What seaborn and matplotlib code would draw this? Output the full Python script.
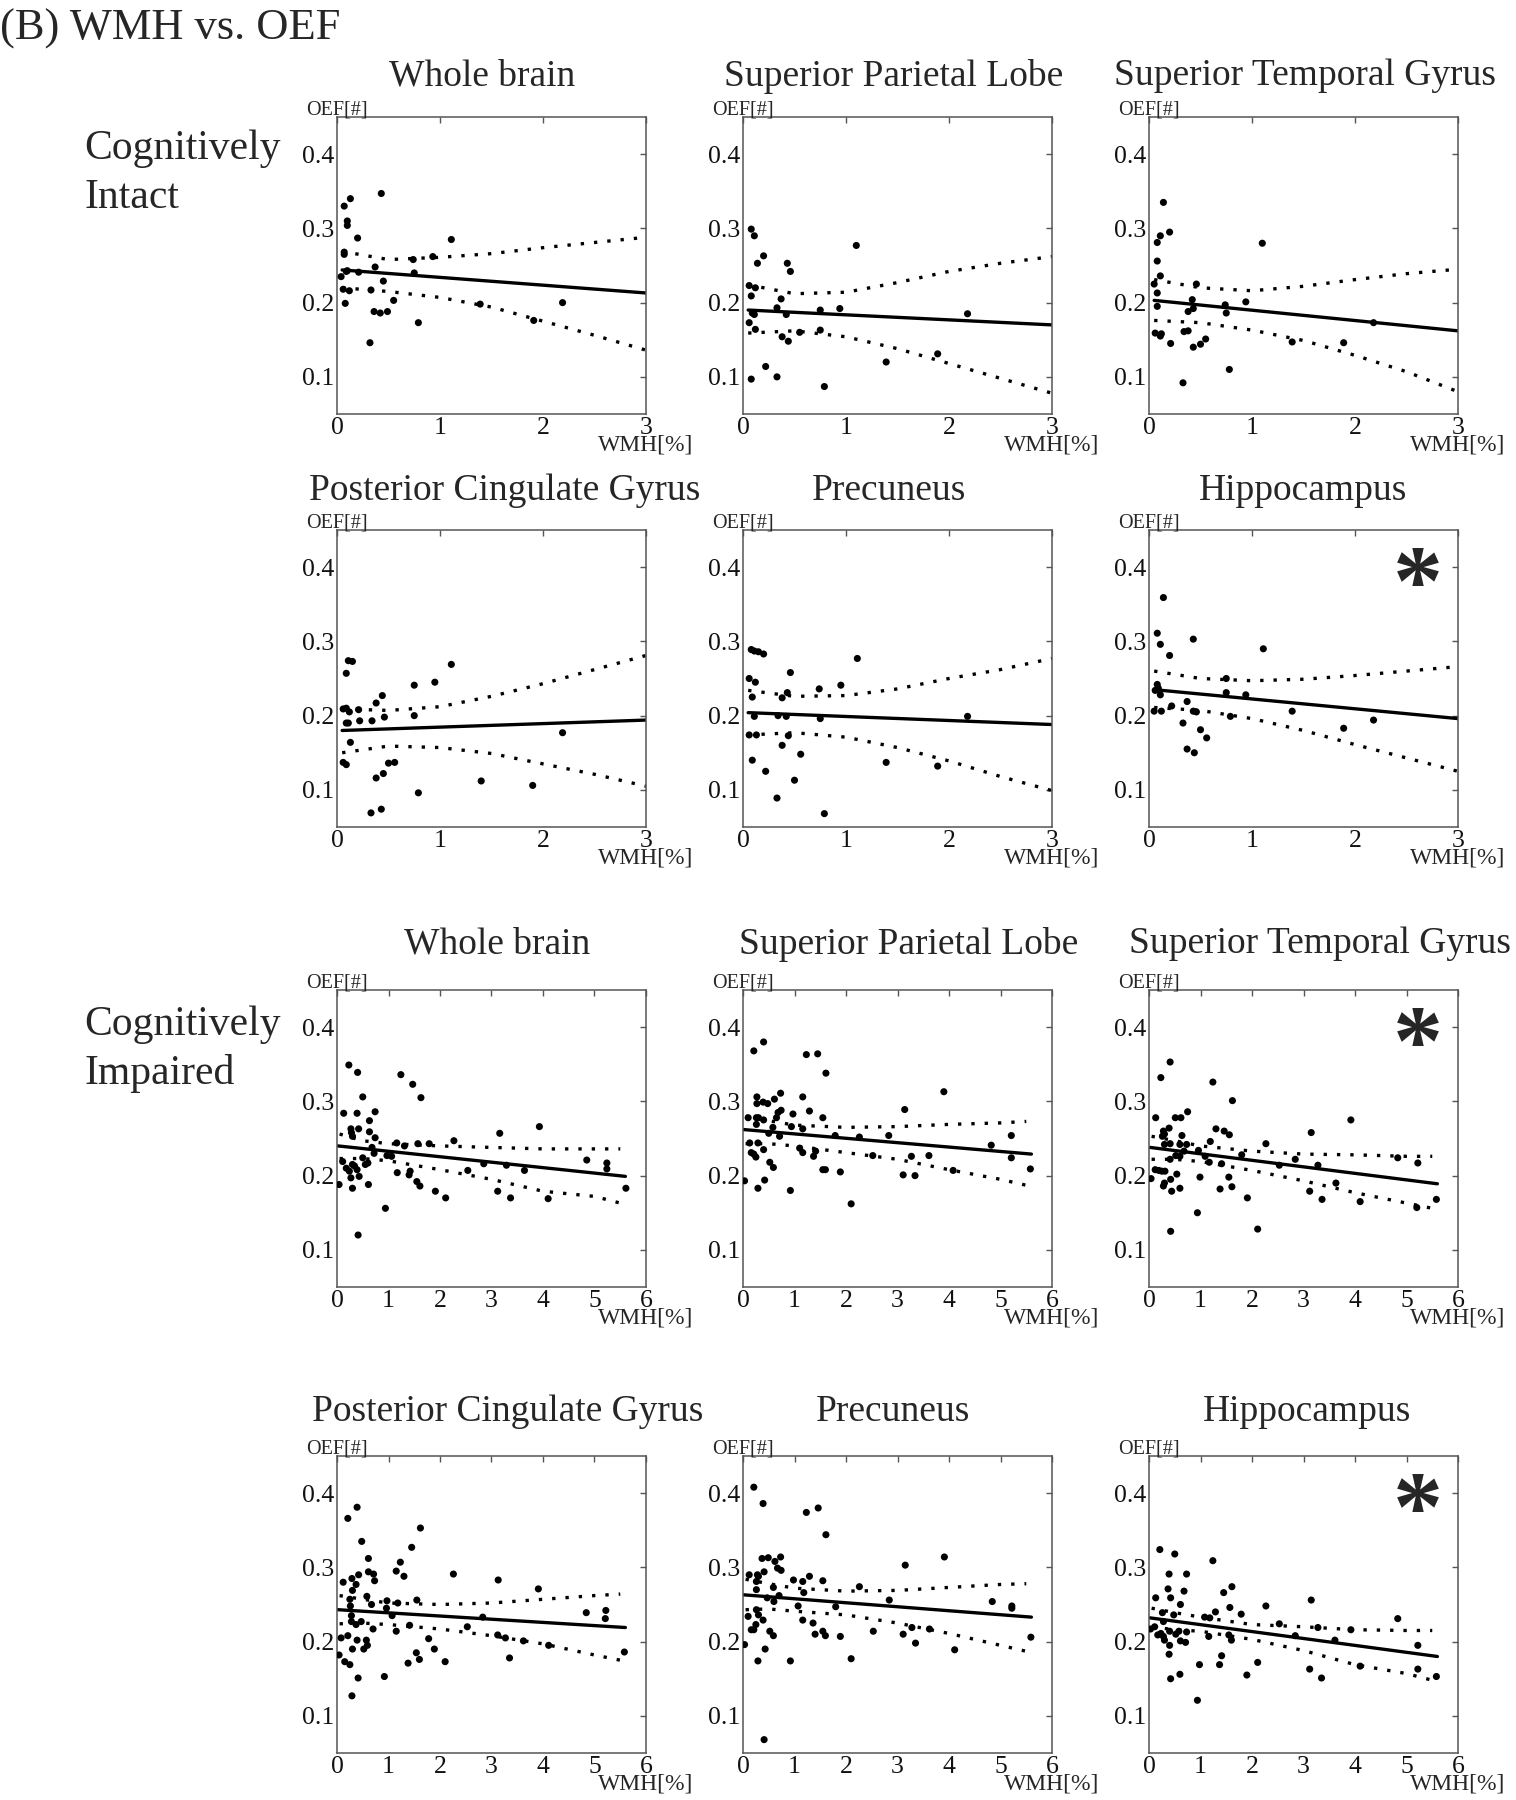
import numpy as np
import pandas as pd
import matplotlib
matplotlib.use("Agg")
import matplotlib.pyplot as plt
import seaborn as sns

# ---- data: WMH [%] (x) vs OEF (y) ----
# Cognitively intact
intact_whole_x = [0.07, 0.13, 0.10, 0.10, 0.20, 0.43, 0.07, 0.07, 0.04, 0.09, 0.10, 0.21, 0.37, 0.06, 0.08, 0.12,
                  0.33, 0.45, 0.36, 0.42, 0.49, 0.55, 0.32, 0.74, 0.75, 0.79, 0.93, 1.11, 1.39, 1.91, 2.19]
intact_whole_y = [0.330, 0.340, 0.310, 0.304, 0.287, 0.347, 0.265, 0.268, 0.235, 0.242, 0.243, 0.241, 0.248, 0.218,
                  0.199, 0.216, 0.217, 0.229, 0.188, 0.186, 0.188, 0.203, 0.146, 0.258, 0.240, 0.173, 0.262, 0.285,
                  0.198, 0.176, 0.200]

intact_spl_x = [0.08, 0.11, 0.14, 0.20, 0.06, 0.12, 0.08, 0.06, 0.09, 0.11, 0.12, 0.08, 0.22, 0.33, 0.33, 0.37,
                0.42, 0.43, 0.46, 0.38, 0.44, 0.55, 0.75, 0.75, 0.79, 0.94, 1.10, 1.39, 1.89, 2.18]
intact_spl_y = [0.299, 0.290, 0.253, 0.263, 0.223, 0.220, 0.209, 0.173, 0.186, 0.184, 0.164, 0.097, 0.114, 0.100,
                0.193, 0.205, 0.184, 0.253, 0.242, 0.154, 0.148, 0.160, 0.190, 0.163, 0.087, 0.192, 0.277, 0.120,
                0.131, 0.185]

intact_stg_x = [0.14, 0.11, 0.08, 0.20, 0.08, 0.11, 0.05, 0.08, 0.08, 0.06, 0.11, 0.12, 0.21, 0.33, 0.34, 0.38,
                0.38, 0.42, 0.43, 0.46, 0.43, 0.50, 0.55, 0.74, 0.75, 0.78, 0.94, 1.10, 1.39, 1.89, 2.18]
intact_stg_y = [0.335, 0.290, 0.281, 0.295, 0.256, 0.236, 0.225, 0.213, 0.195, 0.159, 0.155, 0.158, 0.145, 0.092,
                0.161, 0.162, 0.188, 0.204, 0.192, 0.225, 0.140, 0.144, 0.151, 0.197, 0.186, 0.110, 0.201, 0.280,
                0.147, 0.146, 0.173]

intact_pcg_x = [0.09, 0.11, 0.15, 0.06, 0.09, 0.12, 0.09, 0.11, 0.13, 0.06, 0.09, 0.21, 0.22, 0.34, 0.38, 0.44,
                0.46, 0.50, 0.56, 0.38, 0.45, 0.33, 0.43, 0.75, 0.75, 0.79, 0.95, 1.11, 1.40, 1.90, 2.19]
intact_pcg_y = [0.257, 0.274, 0.273, 0.209, 0.210, 0.205, 0.190, 0.190, 0.164, 0.137, 0.134, 0.208, 0.193, 0.193,
                0.217, 0.227, 0.198, 0.136, 0.137, 0.116, 0.122, 0.069, 0.074, 0.241, 0.200, 0.096, 0.245, 0.269,
                0.112, 0.106, 0.177]

intact_pcu_x = [0.08, 0.11, 0.15, 0.20, 0.06, 0.12, 0.09, 0.11, 0.06, 0.13, 0.09, 0.22, 0.33, 0.34, 0.38, 0.43,
                0.42, 0.44, 0.38, 0.46, 0.56, 0.50, 0.74, 0.75, 0.79, 0.95, 1.11, 1.39, 1.89, 2.18]
intact_pcu_y = [0.289, 0.287, 0.286, 0.283, 0.250, 0.245, 0.225, 0.199, 0.174, 0.174, 0.140, 0.125, 0.089, 0.200,
                0.224, 0.231, 0.199, 0.173, 0.160, 0.258, 0.148, 0.113, 0.236, 0.196, 0.068, 0.241, 0.277, 0.137,
                0.132, 0.199]

intact_hip_x = [0.14, 0.08, 0.11, 0.20, 0.43, 0.08, 0.09, 0.06, 0.11, 0.05, 0.12, 0.22, 0.37, 0.43, 0.46, 0.33,
                0.50, 0.56, 0.37, 0.44, 0.75, 0.75, 0.79, 0.94, 1.11, 1.39, 1.89, 2.18]
intact_hip_y = [0.359, 0.311, 0.296, 0.281, 0.303, 0.242, 0.237, 0.234, 0.228, 0.206, 0.206, 0.213, 0.219, 0.206,
                0.205, 0.190, 0.181, 0.170, 0.155, 0.150, 0.250, 0.231, 0.199, 0.228, 0.290, 0.206, 0.183, 0.194]

# regression line (ends) and 95% CI curves
intact_fit_x = [0.05, 3.0]
intact_band_x = [0.05, 0.5, 1.0, 1.5, 2.0, 2.5, 3.0]
intact_whole_fit = [0.244, 0.213]
intact_whole_hi = [0.269, 0.258, 0.261, 0.266, 0.274, 0.281, 0.288]
intact_whole_lo = [0.220, 0.215, 0.207, 0.194, 0.175, 0.156, 0.136]
intact_spl_fit = [0.190, 0.170]
intact_spl_hi = [0.224, 0.212, 0.214, 0.227, 0.242, 0.253, 0.262]
intact_spl_lo = [0.159, 0.162, 0.154, 0.138, 0.118, 0.098, 0.078]
intact_stg_fit = [0.203, 0.162]
intact_stg_hi = [0.231, 0.220, 0.216, 0.222, 0.231, 0.239, 0.245]
intact_stg_lo = [0.176, 0.173, 0.163, 0.149, 0.129, 0.107, 0.080]
intact_pcg_fit = [0.180, 0.194]
intact_pcg_hi = [0.209, 0.207, 0.212, 0.226, 0.243, 0.262, 0.281]
intact_pcg_lo = [0.150, 0.159, 0.157, 0.149, 0.135, 0.121, 0.105]
intact_pcu_fit = [0.204, 0.188]
intact_pcu_hi = [0.234, 0.226, 0.227, 0.236, 0.250, 0.262, 0.277]
intact_pcu_lo = [0.174, 0.177, 0.171, 0.157, 0.139, 0.118, 0.099]
intact_hip_fit = [0.235, 0.196]
intact_hip_hi = [0.260, 0.250, 0.247, 0.249, 0.254, 0.260, 0.266]
intact_hip_lo = [0.211, 0.207, 0.196, 0.180, 0.161, 0.143, 0.125]

# Cognitively impaired
impaired_whole_x = [0.23, 0.40, 0.13, 0.50, 0.39, 0.27, 0.28, 0.30, 0.42, 0.63, 0.63, 0.74, 0.74, 0.04, 0.11, 0.18,
                    0.24, 0.30, 0.27, 0.34, 0.39, 0.43, 0.30, 0.41, 0.50, 0.55, 0.60, 0.61, 0.68, 0.72, 0.94, 0.97,
                    1.06, 1.16, 1.17, 1.24, 1.31, 1.47, 1.40, 1.42, 1.55, 1.57, 1.61, 1.63, 1.79, 1.91, 2.11, 2.27,
                    2.54, 2.85, 3.12, 3.16, 3.29, 3.37, 3.64, 3.93, 4.10, 4.85, 5.24, 5.24, 5.61]
impaired_whole_y = [0.349, 0.339, 0.284, 0.306, 0.284, 0.263, 0.258, 0.253, 0.263, 0.274, 0.259, 0.286, 0.251,
                    0.188, 0.219, 0.210, 0.206, 0.215, 0.197, 0.213, 0.208, 0.199, 0.183, 0.120, 0.224, 0.215,
                    0.217, 0.188, 0.238, 0.230, 0.156, 0.227, 0.226, 0.244, 0.204, 0.336, 0.240, 0.323, 0.201,
                    0.206, 0.192, 0.243, 0.186, 0.305, 0.243, 0.179, 0.170, 0.247, 0.207, 0.216, 0.179, 0.257,
                    0.214, 0.170, 0.207, 0.266, 0.169, 0.221, 0.217, 0.209, 0.183]

impaired_spl_x = [0.21, 0.40, 0.03, 0.10, 0.13, 0.16, 0.21, 0.25, 0.27, 0.27, 0.26, 0.26, 0.29, 0.29, 0.30, 0.39,
                  0.40, 0.40, 0.42, 0.48, 0.50, 0.52, 0.59, 0.58, 0.61, 0.65, 0.68, 0.73, 0.74, 0.71, 0.92, 0.97,
                  0.94, 1.10, 1.16, 1.16, 1.16, 1.23, 1.29, 1.37, 1.41, 1.45, 1.55, 1.55, 1.60, 1.61, 1.79, 1.89,
                  2.10, 2.26, 2.52, 2.83, 3.11, 3.14, 3.27, 3.34, 3.61, 3.90, 4.08, 4.82, 5.21, 5.21, 5.58]
impaired_spl_y = [0.368, 0.380, 0.193, 0.278, 0.244, 0.231, 0.229, 0.225, 0.306, 0.297, 0.278, 0.269, 0.244, 0.183,
                  0.278, 0.299, 0.275, 0.235, 0.194, 0.297, 0.257, 0.218, 0.211, 0.265, 0.303, 0.278, 0.285, 0.311,
                  0.288, 0.253, 0.180, 0.283, 0.266, 0.237, 0.231, 0.306, 0.263, 0.363, 0.287, 0.226, 0.233, 0.364,
                  0.278, 0.208, 0.208, 0.338, 0.254, 0.205, 0.162, 0.252, 0.227, 0.254, 0.201, 0.289, 0.226, 0.200,
                  0.227, 0.313, 0.207, 0.241, 0.254, 0.224, 0.209]

impaired_stg_x = [0.23, 0.41, 0.04, 0.13, 0.12, 0.19, 0.25, 0.28, 0.30, 0.26, 0.30, 0.31, 0.28, 0.30, 0.39, 0.41,
                  0.41, 0.42, 0.44, 0.42, 0.51, 0.52, 0.54, 0.60, 0.60, 0.62, 0.64, 0.60, 0.68, 0.73, 0.75, 0.94,
                  0.96, 0.99, 1.09, 1.17, 1.19, 1.24, 1.30, 1.38, 1.41, 1.46, 1.55, 1.56, 1.61, 1.62, 1.80, 1.91,
                  2.11, 2.27, 2.53, 2.84, 3.12, 3.15, 3.28, 3.36, 3.63, 3.92, 4.10, 4.83, 5.22, 5.20, 5.58]
impaired_stg_y = [0.332, 0.353, 0.196, 0.278, 0.208, 0.207, 0.206, 0.260, 0.256, 0.253, 0.242, 0.206, 0.186, 0.190,
                  0.264, 0.243, 0.222, 0.195, 0.179, 0.125, 0.278, 0.227, 0.202, 0.242, 0.226, 0.278, 0.254, 0.183,
                  0.233, 0.242, 0.286, 0.150, 0.234, 0.198, 0.226, 0.218, 0.246, 0.326, 0.263, 0.182, 0.216, 0.260,
                  0.198, 0.255, 0.185, 0.301, 0.228, 0.170, 0.128, 0.243, 0.214, 0.222, 0.179, 0.258, 0.214, 0.168,
                  0.190, 0.275, 0.165, 0.224, 0.217, 0.157, 0.168]

impaired_pcg_x = [0.39, 0.21, 0.48, 0.04, 0.12, 0.08, 0.15, 0.25, 0.21, 0.29, 0.30, 0.25, 0.26, 0.28, 0.28, 0.30,
                  0.29, 0.37, 0.42, 0.37, 0.39, 0.41, 0.47, 0.52, 0.57, 0.59, 0.58, 0.61, 0.61, 0.67, 0.71, 0.73,
                  0.70, 0.92, 0.96, 0.97, 1.07, 1.15, 1.15, 1.18, 1.23, 1.30, 1.38, 1.41, 1.45, 1.54, 1.55, 1.60,
                  1.62, 1.78, 1.89, 2.10, 2.26, 2.53, 2.83, 3.13, 3.12, 3.27, 3.35, 3.62, 3.91, 4.11, 4.84, 5.22,
                  5.21, 5.58]
impaired_pcg_y = [0.381, 0.366, 0.335, 0.182, 0.280, 0.205, 0.173, 0.169, 0.208, 0.285, 0.269, 0.257, 0.248, 0.235,
                  0.227, 0.190, 0.127, 0.277, 0.290, 0.223, 0.202, 0.151, 0.227, 0.190, 0.202, 0.195, 0.261, 0.312,
                  0.294, 0.250, 0.291, 0.282, 0.217, 0.153, 0.245, 0.255, 0.235, 0.295, 0.214, 0.252, 0.307, 0.288,
                  0.171, 0.222, 0.327, 0.185, 0.256, 0.176, 0.353, 0.204, 0.190, 0.173, 0.291, 0.220, 0.233, 0.283,
                  0.209, 0.205, 0.178, 0.201, 0.271, 0.195, 0.239, 0.242, 0.231, 0.186]

impaired_pcu_x = [0.21, 0.39, 0.03, 0.10, 0.12, 0.16, 0.21, 0.25, 0.26, 0.26, 0.28, 0.30, 0.26, 0.30, 0.29, 0.37,
                  0.41, 0.39, 0.43, 0.41, 0.49, 0.47, 0.52, 0.59, 0.59, 0.60, 0.62, 0.67, 0.73, 0.74, 0.70, 0.92,
                  0.98, 1.07, 1.16, 1.16, 1.18, 1.23, 1.29, 1.36, 1.40, 1.46, 1.55, 1.55, 1.60, 1.61, 1.80, 1.89,
                  2.10, 2.26, 2.53, 2.84, 3.11, 3.15, 3.28, 3.35, 3.62, 3.91, 4.11, 4.84, 5.22, 5.22, 5.59]
impaired_pcu_y = [0.408, 0.386, 0.196, 0.234, 0.290, 0.216, 0.216, 0.223, 0.270, 0.281, 0.290, 0.288, 0.243, 0.236,
                  0.174, 0.312, 0.294, 0.229, 0.190, 0.068, 0.313, 0.259, 0.214, 0.273, 0.208, 0.254, 0.308, 0.299,
                  0.314, 0.296, 0.262, 0.174, 0.283, 0.248, 0.229, 0.281, 0.266, 0.374, 0.288, 0.225, 0.210, 0.380,
                  0.282, 0.214, 0.208, 0.344, 0.247, 0.207, 0.177, 0.274, 0.214, 0.256, 0.210, 0.303, 0.219, 0.198,
                  0.217, 0.314, 0.189, 0.254, 0.248, 0.245, 0.206]

impaired_hip_x = [0.21, 0.50, 1.24, 0.03, 0.11, 0.13, 0.17, 0.23, 0.26, 0.28, 0.28, 0.30, 0.39, 0.37, 0.42, 0.40,
                  0.40, 0.39, 0.42, 0.48, 0.52, 0.58, 0.61, 0.61, 0.60, 0.68, 0.71, 0.73, 0.73, 0.98, 0.94, 1.08,
                  1.16, 1.18, 1.29, 1.37, 1.41, 1.45, 1.55, 1.57, 1.60, 1.61, 1.79, 1.90, 2.11, 2.27, 2.53, 2.84,
                  3.12, 3.15, 3.28, 3.35, 3.61, 3.92, 4.10, 4.83, 5.22, 5.22, 5.58]
impaired_hip_y = [0.324, 0.318, 0.309, 0.217, 0.220, 0.259, 0.209, 0.211, 0.239, 0.227, 0.207, 0.202, 0.291, 0.271,
                  0.259, 0.214, 0.195, 0.183, 0.150, 0.236, 0.210, 0.214, 0.250, 0.201, 0.156, 0.268, 0.199, 0.291,
                  0.213, 0.169, 0.121, 0.233, 0.207, 0.232, 0.240, 0.169, 0.181, 0.266, 0.209, 0.246, 0.202, 0.274,
                  0.237, 0.155, 0.172, 0.248, 0.224, 0.208, 0.163, 0.256, 0.219, 0.151, 0.202, 0.216, 0.167, 0.231,
                  0.195, 0.163, 0.153]

# regression line (ends) and 95% CI curves
impaired_fit_x = [0.02, 5.6]
impaired_band_x = [0.05, 0.5, 1.0, 2.0, 3.0, 4.0, 5.0, 5.5]
impaired_whole_fit = [0.240, 0.199]
impaired_whole_hi = [0.256, 0.247, 0.243, 0.240, 0.238, 0.236, 0.236, 0.236]
impaired_whole_lo = [0.223, 0.223, 0.220, 0.208, 0.195, 0.179, 0.172, 0.163]
impaired_spl_fit = [0.262, 0.229]
impaired_spl_hi = [0.280, 0.274, 0.268, 0.265, 0.266, 0.269, 0.271, 0.273]
impaired_spl_lo = [0.243, 0.243, 0.240, 0.231, 0.222, 0.208, 0.195, 0.187]
impaired_stg_fit = [0.238, 0.189]
impaired_stg_hi = [0.253, 0.247, 0.240, 0.233, 0.229, 0.228, 0.226, 0.226]
impaired_stg_lo = [0.222, 0.222, 0.219, 0.207, 0.193, 0.177, 0.163, 0.156]
impaired_pcg_fit = [0.243, 0.219]
impaired_pcg_hi = [0.262, 0.257, 0.252, 0.250, 0.252, 0.257, 0.262, 0.264]
impaired_pcg_lo = [0.224, 0.225, 0.223, 0.217, 0.208, 0.197, 0.182, 0.175]
impaired_pcu_fit = [0.263, 0.233]
impaired_pcu_hi = [0.284, 0.278, 0.272, 0.268, 0.269, 0.273, 0.277, 0.278]
impaired_pcu_lo = [0.243, 0.244, 0.241, 0.236, 0.225, 0.211, 0.195, 0.187]
impaired_hip_fit = [0.232, 0.180]
impaired_hip_hi = [0.245, 0.239, 0.233, 0.223, 0.220, 0.216, 0.215, 0.215]
impaired_hip_lo = [0.220, 0.216, 0.214, 0.203, 0.188, 0.169, 0.157, 0.148]

regions = ["Whole brain", "Superior Parietal Lobe", "Superior Temporal Gyrus",
           "Posterior Cingulate Gyrus", "Precuneus", "Hippocampus"]
intact_data = [
    (intact_whole_x, intact_whole_y, intact_whole_fit, intact_whole_hi, intact_whole_lo),
    (intact_spl_x, intact_spl_y, intact_spl_fit, intact_spl_hi, intact_spl_lo),
    (intact_stg_x, intact_stg_y, intact_stg_fit, intact_stg_hi, intact_stg_lo),
    (intact_pcg_x, intact_pcg_y, intact_pcg_fit, intact_pcg_hi, intact_pcg_lo),
    (intact_pcu_x, intact_pcu_y, intact_pcu_fit, intact_pcu_hi, intact_pcu_lo),
    (intact_hip_x, intact_hip_y, intact_hip_fit, intact_hip_hi, intact_hip_lo),
]
impaired_data = [
    (impaired_whole_x, impaired_whole_y, impaired_whole_fit, impaired_whole_hi, impaired_whole_lo),
    (impaired_spl_x, impaired_spl_y, impaired_spl_fit, impaired_spl_hi, impaired_spl_lo),
    (impaired_stg_x, impaired_stg_y, impaired_stg_fit, impaired_stg_hi, impaired_stg_lo),
    (impaired_pcg_x, impaired_pcg_y, impaired_pcg_fit, impaired_pcg_hi, impaired_pcg_lo),
    (impaired_pcu_x, impaired_pcu_y, impaired_pcu_fit, impaired_pcu_hi, impaired_pcu_lo),
    (impaired_hip_x, impaired_hip_y, impaired_hip_fit, impaired_hip_hi, impaired_hip_lo),
]
intact_sig = [False, False, False, False, False, True]
impaired_sig = [False, False, True, False, False, True]

y_ticks = [0.1, 0.2, 0.3, 0.4]
intact_xticks = [0, 1, 2, 3]
impaired_xticks = [0, 1, 2, 3, 4, 5, 6]


def draw_panel(ax, panel, fit_x, band_x, xmax, xticks, star):
    x, y, fit, hi, lo = panel
    sns.scatterplot(x=x, y=y, ax=ax, color="black", s=26, edgecolor="none", linewidth=0, zorder=3)
    sns.lineplot(x=fit_x, y=fit, ax=ax, color="black", lw=2.4, estimator=None, zorder=2)
    for band in (hi, lo):
        sns.lineplot(x=band_x, y=band, ax=ax, color="black", lw=2.4, estimator=None,
                     linestyle=(0, (1, 3)), zorder=2)
    ax.set_xlim(0, xmax)
    ax.set_ylim(0.05, 0.45)
    ax.set_xticks(xticks)
    ax.set_xticklabels([str(v) for v in xticks])
    ax.set_yticks(y_ticks)
    ax.set_yticklabels(["0.1", "0.2", "0.3", "0.4"])
    ax.set_xlabel("")
    ax.set_ylabel("")
    ax.tick_params(direction="in", top=True, right=True, length=4, width=1, color="#555555",
                   labelsize=18.5, pad=2, labelcolor="#111111")
    for sp in ax.spines.values():
        sp.set_visible(True)
        sp.set_color("#555555")
        sp.set_linewidth(1.1)
    ax.text(0.0, 1.025, "OEF[#]", transform=ax.transAxes, ha="center", va="center", fontsize=14.5)
    ax.text(1.0, -0.105, "WMH[%]", transform=ax.transAxes, ha="center", va="center", fontsize=17)
    if star:
        ax.text(0.87, 0.80, "*", transform=ax.transAxes, ha="center", va="center",
                fontsize=72, fontweight="bold")


sns.set_theme(style="white")
plt.rcParams["font.family"] = ["Liberation Serif", "DejaVu Serif"]

W, H = 1516, 1800
fig = plt.figure(figsize=(W / 100, H / 100), dpi=100)

col_left = [337, 743, 1149]
row_top = [117, 530, 990, 1456]
ax_w, ax_h = 309, 297

title_pos = [
    [(482, 76), (894, 76), (1305, 76)],
    [(505, 491), (889, 491), (1303, 491)],
    [(497, 944), (909, 944), (1320, 944)],
    [(508, 1412), (893, 1412), (1307, 1412)],
]

for r in range(4):
    group = intact_data if r < 2 else impaired_data
    sig = intact_sig if r < 2 else impaired_sig
    for c in range(3):
        k = (r % 2) * 3 + c
        ax = fig.add_axes([col_left[c] / W, 1 - (row_top[r] + ax_h) / H, ax_w / W, ax_h / H])
        if r < 2:
            draw_panel(ax, group[k], intact_fit_x, intact_band_x, 3, intact_xticks, sig[k])
        else:
            draw_panel(ax, group[k], impaired_fit_x, impaired_band_x, 6, impaired_xticks, sig[k])
        tx, ty = title_pos[r][c]
        fig.text(tx / W, 1 - ty / H, regions[k], ha="center", va="center", fontsize=27)

fig.text(0.0, 0.9955, "(B) WMH vs. OEF", ha="left", va="top", fontsize=32)
fig.text(84 / W, 1 - 130 / H, "Cognitively\nIntact", ha="left", va="top", fontsize=30, linespacing=1.35)
fig.text(84 / W, 1 - 1005 / H, "Cognitively\nImpaired", ha="left", va="top", fontsize=30, linespacing=1.35)

fig.savefig("out.png", dpi=100, facecolor="white")
